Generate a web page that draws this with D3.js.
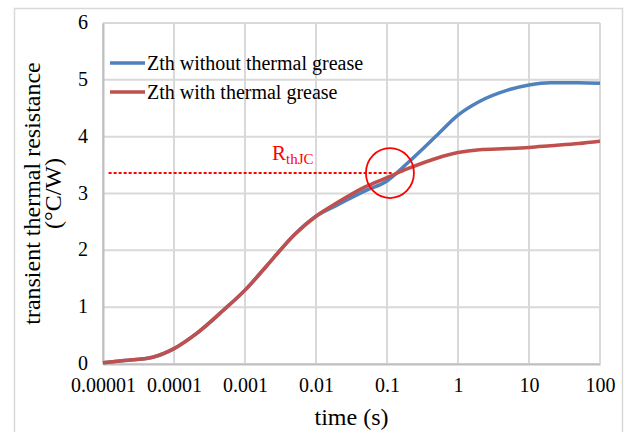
<!DOCTYPE html>
<html>
<head>
<meta charset="utf-8">
<script src="https://cdn.jsdelivr.net/npm/d3@7"></script>
<style>
  body { margin: 0; background: #fff; }
  svg text { font-family: "Liberation Serif", "Times New Roman", "DejaVu Serif", serif; fill: #000; }
</style>
</head>
<body>
<svg id="chart" width="625" height="432"></svg>
<script>
// time samples (s) and Zth values
const times = [1e-5, 2e-5, 5e-5, 1e-4, 2e-4, 5e-4, 1e-3, 2e-3, 5e-3, 1e-2, 2e-2, 5e-2, 0.1, 0.2, 0.5, 1, 2, 5, 10, 20, 50, 100];
const zthWithout = [0.02, 0.06, 0.12, 0.27, 0.52, 0.95, 1.30, 1.72, 2.28, 2.60, 2.80, 3.05, 3.22, 3.55, 4.02, 4.38, 4.62, 4.82, 4.91, 4.95, 4.95, 4.94];
const zthWith    = [0.02, 0.06, 0.12, 0.27, 0.52, 0.95, 1.30, 1.72, 2.28, 2.60, 2.84, 3.12, 3.28, 3.44, 3.62, 3.72, 3.77, 3.79, 3.81, 3.84, 3.88, 3.92];
const xTicks = [1e-5, 1e-4, 1e-3, 1e-2, 0.1, 1, 10, 100];
const xTickLabels = ['0.00001', '0.0001', '0.001', '0.01', '0.1', '1', '10', '100'];
const yTicks = [0, 1, 2, 3, 4, 5, 6];
const seriesNames = ['Zth without thermal grease', 'Zth with thermal grease'];
const rthjc = 3.36;          // dashed marker level
const rthjcSpan = [1.2e-5, 0.12];
const circleAt = [0.11, 3.36];

const FONT = '"Liberation Serif", "Times New Roman", serif';
const svg = d3.select('#chart');
const margin = { top: 23, right: 25, bottom: 68, left: 103 };
const width = 625 - margin.left - margin.right,
  height = 432 - margin.top - margin.bottom;

const x = d3.scaleLog().domain([1e-5, 100]).range([margin.left, margin.left + width]);
const y = d3.scaleLinear().domain([0, 6]).range([margin.top + height, margin.top]);

// outer frame
svg.append('rect')
  .attr('x', 14.5).attr('y', 8.5).attr('width', 608).attr('height', 430)
  .attr('fill', '#fff').attr('stroke', '#d9d9d9').attr('stroke-width', 1.5);

// gridlines
const grid = svg.append('g');
grid.selectAll('line.h').data(yTicks).enter().append('line')
  .attr('x1', x(1e-5)).attr('x2', x(100))
  .attr('y1', d => y(d)).attr('y2', d => y(d))
  .attr('stroke', '#d9d9d9').attr('stroke-width', 2);
grid.selectAll('line.v').data(xTicks).enter().append('line')
  .attr('y1', y(0)).attr('y2', y(6))
  .attr('x1', d => x(d)).attr('x2', d => x(d))
  .attr('stroke', '#d9d9d9').attr('stroke-width', 2);

// axes
const xAxis = d3.axisBottom(x).tickValues(xTicks)
  .tickFormat((d, i) => xTickLabels[i]).tickSize(0).tickPadding(12);
const gx = svg.append('g').attr('transform', 'translate(0,' + y(0) + ')').call(xAxis)
  .attr('font-family', FONT).attr('font-size', 20);
gx.select('.domain').attr('stroke', '#bfbfbf').attr('stroke-width', 2);
gx.selectAll('text').attr('dy', '0.8em');

const yAxis = d3.axisLeft(y).tickValues(yTicks).tickFormat(d3.format('d')).tickSize(0).tickPadding(15);
const gy = svg.append('g').attr('transform', 'translate(' + x(1e-5) + ',0)').call(yAxis)
  .attr('font-family', FONT).attr('font-size', 20);
gy.select('.domain').attr('stroke', '#bfbfbf').attr('stroke-width', 2);
gy.selectAll('text').attr('dy', '0.28em');

// axis titles
svg.append('text')
  .attr('x', margin.left + width / 2).attr('y', 425)
  .attr('text-anchor', 'middle').style('font-size', '24px')
  .text('time (s)');
const yt = svg.append('text')
  .attr('transform', 'translate(40,' + (margin.top + height / 2) + ') rotate(-90)')
  .attr('text-anchor', 'middle').style('font-size', '24px');
yt.append('tspan').attr('x', 0).attr('y', 0).text('transient thermal resistance');
yt.append('tspan').attr('x', 0).attr('y', 21).text('(°C/W)');

// series
const line = d3.line()
  .x(d => x(d[0])).y(d => y(d[1]))
  .curve(d3.curveMonotoneX);
const colors = ['#4f81bd', '#c0504d'];
[zthWithout, zthWith].forEach((vals, k) => {
  svg.append('path')
    .datum(times.map((t, i) => [t, vals[i]]))
    .attr('fill', 'none')
    .attr('stroke', colors[k])
    .attr('stroke-width', 3.5)
    .attr('stroke-linejoin', 'round')
    .attr('d', line);
});

// RthJC marker
svg.append('line')
  .attr('x1', x(rthjcSpan[0])).attr('x2', x(rthjcSpan[1]))
  .attr('y1', y(rthjc)).attr('y2', y(rthjc))
  .attr('stroke', '#ff0000').attr('stroke-width', 2)
  .attr('stroke-dasharray', '3,2');
svg.append('ellipse')
  .attr('cx', x(circleAt[0])).attr('cy', y(circleAt[1]))
  .attr('rx', 24).attr('ry', 25)
  .attr('fill', 'none').attr('stroke', '#ff0000').attr('stroke-width', 1.8);
const rl = svg.append('text')
  .attr('x', 272).attr('y', 160)
  .style('font-size', '21px').style('fill', '#ff0000');
rl.append('tspan').text('R');
rl.append('tspan').attr('dy', 4).style('font-size', '15px').style('fill', '#ff0000').text('thJC');

// legend
const legend = svg.append('g');
seriesNames.forEach((name, i) => {
  const ly = 63 + i * 29;
  legend.append('line')
    .attr('x1', 110).attr('x2', 145).attr('y1', ly).attr('y2', ly)
    .attr('stroke', colors[i]).attr('stroke-width', 3.5);
  legend.append('text')
    .attr('x', 147).attr('y', ly)
    .attr('dy', '0.35em')
    .style('font-size', '20px')
    .text(name);
});
</script>
</body>
</html>
